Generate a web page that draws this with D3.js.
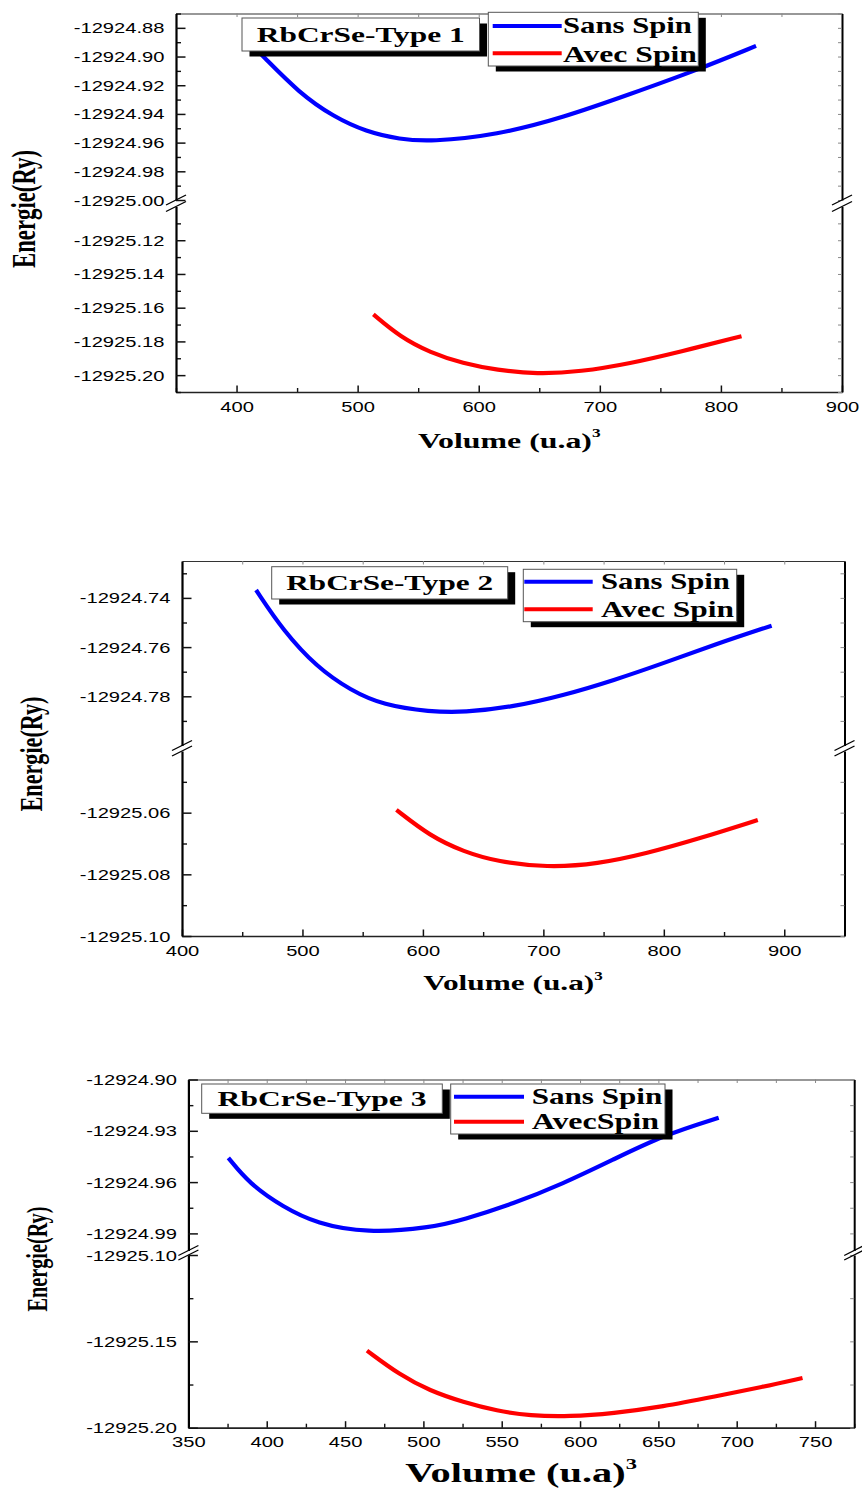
<!DOCTYPE html>
<html>
<head>
<meta charset="utf-8">
<script src="https://cdn.jsdelivr.net/npm/d3@7/dist/d3.min.js"></script>
<style>
  html, body { margin: 0; padding: 0; background: #fff; }
  svg { display: block; }
</style>
</head>
<body>
<svg id="chart" width="862" height="1490"></svg>
<script>
// ---- Energy (Ry) versus volume (u.a)^3 for the three RbCrSe structure types ----

// [volume, energy] pairs, non spin-polarised and spin-polarised
const type1SansSpin = [
  [416, -12924.8950], [421, -12924.8990], [452, -12924.9256], [480, -12924.9419],
  [507, -12924.9524], [535, -12924.9577], [560, -12924.9594], [615, -12924.9547],
  [670, -12924.9425], [725, -12924.9262], [780, -12924.9095], [829, -12924.8926]
];
const type1AvecSpin = [
  [513, -12925.1640], [535, -12925.1773], [560, -12925.1867], [587, -12925.1931],
  [615, -12925.1970], [648, -12925.1994], [684, -12925.1980], [725, -12925.1931],
  [766, -12925.1862], [817, -12925.1769]
];
const type2SansSpin = [
  [461.5, -12924.7368], [484, -12924.7533], [512, -12924.7682], [540, -12924.7776],
  [567, -12924.7836], [606, -12924.7863], [634, -12924.7866], [675, -12924.7843],
  [717, -12924.7796], [758.5, -12924.7735], [800, -12924.7665], [842, -12924.7590],
  [889.5, -12924.7513]
];
const type2AvecSpin = [
  [578, -12925.0591], [606, -12925.0676], [634, -12925.0727], [662, -12925.0759],
  [703, -12925.0778], [745, -12925.0767], [786, -12925.0732], [828, -12925.0686],
  [878, -12925.0624]
];
const type3SansSpin = [
  [375.5, -12924.9458], [389, -12924.9610], [410.5, -12924.9746], [432, -12924.9843],
  [464, -12924.9898], [504, -12924.9868], [525.5, -12924.9820], [557.5, -12924.9726],
  [589, -12924.9610], [621, -12924.9469], [653, -12924.9327], [688.5, -12924.9224]
];
const type3AvecSpin = [
  [464, -12925.1554], [485, -12925.1695], [504, -12925.1786], [525.5, -12925.1853],
  [547, -12925.1903], [568, -12925.1931], [593.5, -12925.1936], [621, -12925.1917],
  [653, -12925.1878], [685, -12925.1821], [717, -12925.1763], [742, -12925.1712]
];

// axis ranges (the energy axis is broken into an upper and a lower part)
const type1XDomain = [350, 900];
const type2XDomain = [400, 950];
const type3XDomain = [350, 775];
const type1YUpper = [-12925.00, -12924.87];
const type1YLower = [-12925.21, -12925.10];
const type2YUpper = [-12924.80, -12924.725];
const type2YLower = [-12925.10, -12925.04];
const type3YUpper = [-12925.00, -12924.90];
const type3YLower = [-12925.20, -12925.10];

// labelled ticks
const type1XTicks = [400, 500, 600, 700, 800, 900];
const type2XTicks = [400, 500, 600, 700, 800, 900];
const type3XTicks = [350, 400, 450, 500, 550, 600, 650, 700, 750];
const type1YTicksUpper = [-12924.88, -12924.90, -12924.92, -12924.94, -12924.96, -12924.98, -12925.00];
const type1YTicksLower = [-12925.12, -12925.14, -12925.16, -12925.18, -12925.20];
const type2YTicksUpper = [-12924.74, -12924.76, -12924.78];
const type2YTicksLower = [-12925.06, -12925.08, -12925.10];
const type3YTicksUpper = [-12924.90, -12924.93, -12924.96, -12924.99];
const type3YTicksLower = [-12925.10, -12925.15, -12925.20];

// text
const panelTitles = ["RbCrSe-Type 1", "RbCrSe-Type 2", "RbCrSe-Type 3"];
const legendLabels = [["Sans Spin", "Avec Spin"], ["Sans Spin", "Avec Spin"], ["Sans Spin", "AvecSpin"]];
const xAxisTitle = "Volume (u.a)";
const xAxisExponent = "3";
const yAxisTitle = "Energie(Ry)";

const BLUE = "#0000ff", RED = "#ff0000";
const SERIF = '"Liberation Serif","Times New Roman",Times,serif';
const SANS = '"Liberation Sans",Arial,Helvetica,sans-serif';
const TICK_SX = 1.44;     // glyphs are drawn wide
const SHADOW = [7.5, 5.5];

// plain hyphen-minus for negative tick labels
const fmtLocale = d3.formatLocale({ decimal: ".", thousands: "", grouping: [3], currency: ["", ""], minus: "-" });
const energyFormat = fmtLocale.format(".2f");

const panels = [
  {
    sans: type1SansSpin, avec: type1AvecSpin,
    xDomain: type1XDomain, yUpper: type1YUpper, yLower: type1YLower,
    xTicks: type1XTicks, yTicksUpper: type1YTicksUpper, yTicksLower: type1YTicksLower,
    xMinor: 50, yMinorUpper: 0.01, yMinorLower: 0.01,
    title: panelTitles[0], legend: legendLabels[0],
    L: { left: 176, right: 842, top: 13.5, upperBottom: 200, lowerTop: 206.5, bottom: 392 },
    titleBox: { x: 242, y: 18, w: 237.5, h: 33, base: 42, tw: 208 },
    legendBox: { x: 488.3, y: 12.3, w: 210, h: 53.7, lx0: 492.7, lx1: 561.7, rows: [26, 53.3],
                 tx: 563, bases: [33.3, 61.7], tws: [129, 134] },
    xLabel: { cx: 509.3, base: 448, size: 22, w: 182.7, supSize: 12, supDy: -11 },
    yLabel: { x: 35, cy: 209, size: 23, len: 118 }
  },
  {
    sans: type2SansSpin, avec: type2AvecSpin,
    xDomain: type2XDomain, yUpper: type2YUpper, yLower: type2YLower,
    xTicks: type2XTicks, yTicksUpper: type2YTicksUpper, yTicksLower: type2YTicksLower,
    xMinor: 50, yMinorUpper: 0.01, yMinorLower: 0.01,
    title: panelTitles[1], legend: legendLabels[1],
    L: { left: 182, right: 844.5, top: 561, upperBottom: 745.5, lowerTop: 751, bottom: 936 },
    titleBox: { x: 271.7, y: 566.7, w: 236, h: 32.3, base: 590, tw: 207 },
    legendBox: { x: 523.3, y: 569.3, w: 213.4, h: 52.4, lx0: 524.3, lx1: 592.7, rows: [581.7, 609.3],
                 tx: 601, bases: [589.3, 617.3], tws: [129, 133] },
    xLabel: { cx: 513, base: 990, size: 22, w: 179.7, supSize: 12, supDy: -10 },
    yLabel: { x: 41.7, cy: 754, size: 22.5, len: 115 }
  },
  {
    sans: type3SansSpin, avec: type3AvecSpin,
    xDomain: type3XDomain, yUpper: type3YUpper, yLower: type3YLower,
    xTicks: type3XTicks, yTicksUpper: type3YTicksUpper, yTicksLower: type3YTicksLower,
    xMinor: 25, yMinorUpper: 0.015, yMinorLower: 0.025,
    title: panelTitles[2], legend: legendLabels[2],
    L: { left: 188.4, right: 854.2, top: 1079.5, upperBottom: 1250.5, lowerTop: 1255, bottom: 1427.7 },
    titleBox: { x: 201.7, y: 1084, w: 240.6, h: 29.3, base: 1105.7, tw: 209 },
    legendBox: { x: 450.7, y: 1084, w: 214.3, h: 50, lx0: 454, lx1: 524, rows: [1096.7, 1121.7],
                 tx: 531.7, bases: [1104, 1129], tws: [130.7, 127.3] },
    xLabel: { cx: 521, base: 1482, size: 27, w: 231.7, supSize: 15, supDy: -13 },
    yLabel: { x: 46.7, cy: 1259, size: 21, len: 105 }
  }
];

const svg = d3.select("#chart");

// minor tick values on a regular step anchored at a labelled tick
function minorValues(anchor, step, domain, majors) {
  const lo = Math.min(...domain), hi = Math.max(...domain), out = [];
  for (let k = -300; k <= 300; k++) {
    const v = +(anchor + k * step).toFixed(5);
    if (v < lo - 1e-7 || v > hi + 1e-7) continue;
    if (majors.some(m => Math.abs(m - v) < 1e-6)) continue;
    out.push(v);
  }
  return out;
}

function styleAxis(sel, color, width) {
  sel.attr("font-family", SANS).attr("font-size", 14);
  sel.selectAll(".tick line").attr("stroke", color).attr("stroke-width", width);
  sel.selectAll(".tick text").attr("fill", "#000");
}

function drawPanel(p) {
  const L = p.L;
  const g = svg.append("g");

  const x = d3.scaleLinear().domain(p.xDomain).range([L.left, L.right]);
  const yU = d3.scaleLinear().domain(p.yUpper).range([L.upperBottom, L.top]);
  const yL = d3.scaleLinear().domain(p.yLower).range([L.bottom, L.lowerTop]);

  // --- curves ---
  const lineOn = ys => d3.line().x(d => x(d[0])).y(d => ys(d[1])).curve(d3.curveBasis);
  g.append("path").datum(p.sans).attr("d", lineOn(yU))
    .attr("fill", "none").attr("stroke", BLUE).attr("stroke-width", 4.2);
  g.append("path").datum(p.avec).attr("d", lineOn(yL))
    .attr("fill", "none").attr("stroke", RED).attr("stroke-width", 4.2);

  // --- bottom axis ---
  const xMinor = minorValues(p.xTicks[0], p.xMinor, p.xDomain, p.xTicks);
  const gxMinor = g.append("g").attr("transform", `translate(0,${L.bottom})`)
    .call(d3.axisBottom(x).tickValues(xMinor).tickSize(-4).tickFormat(""));
  gxMinor.select(".domain").remove();
  styleAxis(gxMinor, "#111", 1.4);

  const gx = g.append("g").attr("transform", `translate(0,${L.bottom})`)
    .call(d3.axisBottom(x).tickValues(p.xTicks).tickSizeInner(-6.5).tickSizeOuter(0)
      .tickPadding(8).tickFormat(d3.format("d")));
  gx.select(".domain").attr("stroke", "#222").attr("stroke-width", 1.7);
  styleAxis(gx, "#111", 1.5);
  gx.selectAll(".tick text").attr("y", 0).attr("dy", 0)
    .attr("transform", `translate(0,19.5) scale(${TICK_SX},1)`);

  // --- top axis (small inward ticks only) ---
  const gt = g.append("g").attr("transform", `translate(0,${L.top})`)
    .call(d3.axisTop(x).tickValues(xMinor.concat(p.xTicks)).tickSizeInner(-3.5).tickSizeOuter(0).tickFormat(""));
  gt.select(".domain").attr("stroke", "#333").attr("stroke-width", 1.2);
  styleAxis(gt, "#888", 1);

  // --- left and right axes, one piece per energy segment ---
  const segs = [
    { y: yU, majors: p.yTicksUpper, step: p.yMinorUpper },
    { y: yL, majors: p.yTicksLower, step: p.yMinorLower }
  ];
  const edges = [L.upperBottom, L.lowerTop];
  segs.forEach(s => {
    const minors = minorValues(s.majors[0], s.step, s.y.domain(), s.majors)
      .filter(v => edges.every(e => Math.abs(s.y(v) - e) > 2.5));

    const gm = g.append("g").attr("transform", `translate(${L.left},0)`)
      .call(d3.axisLeft(s.y).tickValues(minors).tickSize(-5).tickFormat(""));
    gm.select(".domain").remove();
    styleAxis(gm, "#111", 1.4);

    const gy = g.append("g").attr("transform", `translate(${L.left},0)`)
      .call(d3.axisLeft(s.y).tickValues(s.majors).tickSizeInner(-9.5).tickSizeOuter(0)
        .tickFormat(energyFormat));
    gy.select(".domain").attr("stroke", "#000").attr("stroke-width", 2.2);
    styleAxis(gy, "#111", 1.5);
    gy.selectAll(".tick text").attr("x", 0).attr("dy", "0.36em")
      .attr("text-anchor", "end")
      .attr("transform", `translate(-11.5,0) scale(${TICK_SX},1)`);

    const gr = g.append("g").attr("transform", `translate(${L.right},0)`)
      .call(d3.axisRight(s.y).tickValues(s.majors.concat(minors)).tickSizeInner(-4).tickSizeOuter(0).tickFormat(""));
    gr.select(".domain").attr("stroke", "#000").attr("stroke-width", 2);
    styleAxis(gr, "#888", 1);
  });

  // --- axis break marks ---
  const yb = (L.upperBottom + L.lowerTop) / 2, half = (L.lowerTop - L.upperBottom) / 2;
  [L.left, L.right].forEach(ax => {
    [-half, half].forEach(d => {
      g.append("line")
        .attr("x1", ax - 10).attr("y1", yb + d + 5)
        .attr("x2", ax + 10).attr("y2", yb + d - 5)
        .attr("stroke", "#000").attr("stroke-width", 1.3);
    });
  });

  // --- axis titles ---
  const xl = p.xLabel;
  const xt = g.append("text").attr("font-family", SERIF).attr("font-weight", "bold")
    .attr("font-size", xl.size).attr("text-anchor", "middle").attr("fill", "#000");
  xt.append("tspan").text(xAxisTitle);
  xt.append("tspan").attr("font-size", xl.supSize).attr("dy", xl.supDy).text(xAxisExponent);
  const xlen = xt.node().getComputedTextLength();
  xt.attr("transform", `translate(${xl.cx},${xl.base}) scale(${xl.w / xlen},1)`);

  const yl = p.yLabel;
  const yt = g.append("text").attr("font-family", SERIF).attr("font-weight", "bold")
    .attr("font-size", yl.size).attr("text-anchor", "middle").attr("fill", "#000").text(yAxisTitle);
  const ylen = yt.node().getComputedTextLength();
  yt.attr("transform", `translate(${yl.x},${yl.cy}) scale(1.43,1) rotate(-90) scale(${yl.len / ylen},1)`);

  // --- title box ---
  const tb = p.titleBox;
  g.append("rect").attr("x", tb.x + SHADOW[0]).attr("y", tb.y + SHADOW[1])
    .attr("width", tb.w).attr("height", tb.h).attr("fill", "#000");
  g.append("rect").attr("x", tb.x).attr("y", tb.y).attr("width", tb.w).attr("height", tb.h)
    .attr("fill", "#fff").attr("stroke", "#555").attr("stroke-width", 1);
  const tt = g.append("text").attr("font-family", SERIF).attr("font-weight", "bold")
    .attr("font-size", 22).attr("text-anchor", "middle").attr("fill", "#000").text(p.title);
  tt.attr("transform", `translate(${tb.x + tb.w / 2},${tb.base}) scale(${tb.tw / tt.node().getComputedTextLength()},1)`);

  // --- legend ---
  const lb = p.legendBox;
  g.append("rect").attr("x", lb.x + SHADOW[0]).attr("y", lb.y + SHADOW[1])
    .attr("width", lb.w).attr("height", lb.h).attr("fill", "#000");
  g.append("rect").attr("x", lb.x).attr("y", lb.y).attr("width", lb.w).attr("height", lb.h)
    .attr("fill", "#fff").attr("stroke", "#555").attr("stroke-width", 1);
  [BLUE, RED].forEach((c, i) => {
    g.append("line").attr("x1", lb.lx0).attr("x2", lb.lx1).attr("y1", lb.rows[i]).attr("y2", lb.rows[i])
      .attr("stroke", c).attr("stroke-width", 4);
    const lt = g.append("text").attr("font-family", SERIF).attr("font-weight", "bold")
      .attr("font-size", 24).attr("fill", "#000").text(p.legend[i]);
    lt.attr("transform", `translate(${lb.tx},${lb.bases[i]}) scale(${lb.tws[i] / lt.node().getComputedTextLength()},1)`);
  });
}

panels.forEach(drawPanel);
</script>
</body>
</html>
